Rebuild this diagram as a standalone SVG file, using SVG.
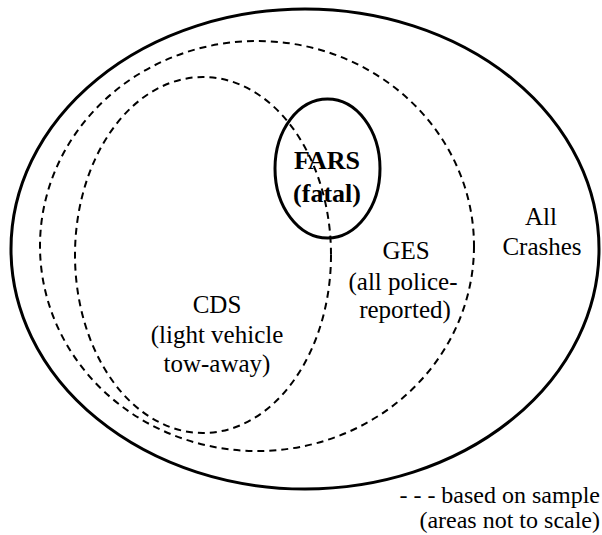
<svg xmlns="http://www.w3.org/2000/svg" width="602" height="535" viewBox="0 0 602 535">
<style>
.solid{fill:none;stroke:#000;stroke-width:3}
.dash{fill:none;stroke:#000;stroke-width:2;stroke-dasharray:7 5}
text{font-family:'Liberation Serif','Times New Roman',serif;fill:#000}
.lbl{font-size:25px;text-anchor:middle}
.bold{font-weight:bold;font-size:26px}
.leg{font-size:24px;text-anchor:end}
</style>
<rect width="602" height="535" fill="#fff"/>
<g id="all-crashes">
<ellipse class="solid" cx="305" cy="249" rx="294" ry="240"/>
<text class="lbl" x="541" y="225">All</text>
<text class="lbl" x="542" y="255">Crashes</text>
</g>
<g id="ges">
<ellipse class="dash" cx="257" cy="246" rx="217" ry="205"/>
<text class="lbl" x="406" y="259">GES</text>
<text class="lbl" x="403" y="290">(all police-</text>
<text class="lbl" x="405" y="318">reported)</text>
</g>
<g id="cds">
<ellipse class="dash" cx="203" cy="255" rx="128" ry="178"/>
<text class="lbl" x="217" y="313">CDS</text>
<text class="lbl" x="217" y="343">(light vehicle</text>
<text class="lbl" x="217" y="372">tow-away)</text>
</g>
<g id="fars">
<ellipse class="solid" cx="327.5" cy="168.5" rx="52.5" ry="69.5"/>
<text class="lbl bold" x="327" y="169">FARS</text>
<text class="lbl bold" x="327" y="202">(fatal)</text>
</g>
<g id="legend">
<text class="leg" x="600" y="503">- - - based on sample</text>
<text class="leg" x="600" y="528">(areas not to scale)</text>
</g>
</svg>
